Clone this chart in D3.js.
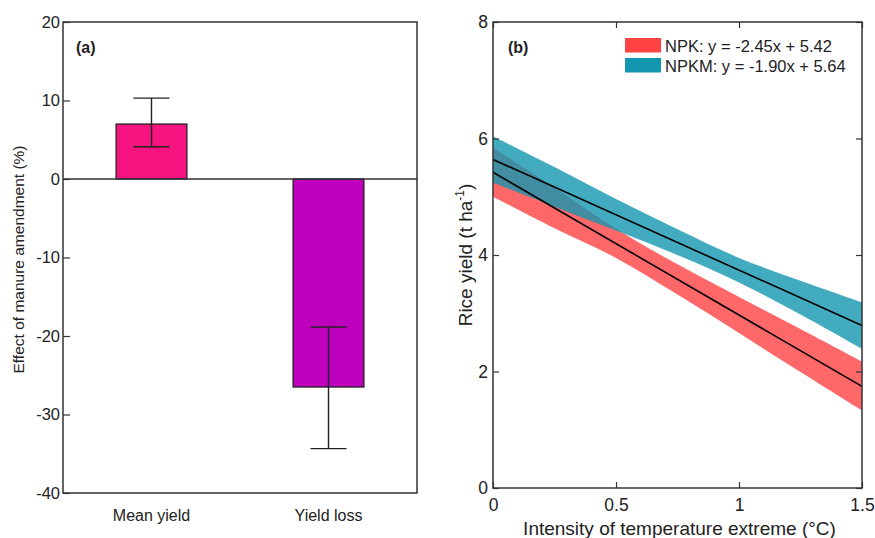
<!DOCTYPE html>
<html><head><meta charset="utf-8">
<script src="https://cdn.jsdelivr.net/npm/d3@7"></script>
<style>
body{margin:0;background:#fff;}
text{font-family:"Liberation Sans",Arial,sans-serif;fill:#222;}
</style></head>
<body><svg id="c" width="875" height="538"></svg>
<script>
// ---- Panel (a) data ----
const categories = ["Mean yield", "Yield loss"];
const effectMean = [7.0, -26.5];
const effectLow = [4.1, -34.35];
const effectHigh = [10.3, -18.85];
const barColors = ["#F5137F", "#BE00BE"];
const aTicks = [-40, -30, -20, -10, 0, 10, 20];

// ---- Panel (b) data ----
const bandX = [0, 0.25, 0.5, 0.75, 1, 1.25, 1.5];
const npkLower = [5.00, 4.46, 3.95, 3.32, 2.66, 1.99, 1.33];
const npkUpper = [5.84, 5.16, 4.45, 3.84, 3.28, 2.73, 2.17];
const npkmLower = [5.24, 4.83, 4.42, 4.00, 3.53, 2.98, 2.39];
const npkmUpper = [6.04, 5.51, 4.96, 4.44, 3.95, 3.56, 3.19];
const fitX = [0, 1.5];
const npkFit = [5.42, 1.745];
const npkmFit = [5.64, 2.79];
const seriesNames = ["NPK: y = -2.45x + 5.42", "NPKM: y = -1.90x + 5.64"];
const seriesColors = ["#FF4242", "#1396B0"];
const bXTicks = [0, 0.5, 1, 1.5];
const bYTicks = [0, 2, 4, 6, 8];

const svg = d3.select("#c");
const axisColor = "#333";
const FONT = "Liberation Sans, Arial, sans-serif";

// ================= Panel (a) =================
const A = {l: 63, r: 417, t: 22, b: 493};
const ya = d3.scaleLinear().domain([-40, 20]).range([A.b, A.t]);
const xa = d3.scaleBand().domain(categories).range([A.l, A.r]).paddingInner(0.6).paddingOuter(0.3);
const ga = svg.append("g");

ga.selectAll("rect.bar").data(categories).join("rect")
  .attr("x", d => xa(d))
  .attr("width", xa.bandwidth())
  .attr("y", (d, i) => ya(Math.max(0, effectMean[i])))
  .attr("height", (d, i) => Math.abs(ya(effectMean[i]) - ya(0)))
  .attr("fill", (d, i) => barColors[i])
  .attr("stroke", "#222").attr("stroke-width", 1.3);

ga.append("line").attr("x1", A.l).attr("x2", A.r).attr("y1", ya(0)).attr("y2", ya(0))
  .attr("stroke", axisColor).attr("stroke-width", 1.3);

const capW = 36;
categories.forEach((c, i) => {
  const cx = xa(c) + xa.bandwidth() / 2;
  const g = ga.append("g").attr("stroke", "#222").attr("stroke-width", 1.4);
  g.append("line").attr("x1", cx).attr("x2", cx).attr("y1", ya(effectLow[i])).attr("y2", ya(effectHigh[i]));
  g.append("line").attr("x1", cx - capW / 2).attr("x2", cx + capW / 2).attr("y1", ya(effectLow[i])).attr("y2", ya(effectLow[i]));
  g.append("line").attr("x1", cx - capW / 2).attr("x2", cx + capW / 2).attr("y1", ya(effectHigh[i])).attr("y2", ya(effectHigh[i]));
});

const axA = ga.append("g").attr("transform", `translate(${A.l},0)`)
  .call(d3.axisLeft(ya).tickValues(aTicks).tickSize(-7).tickPadding(3).tickFormat(d => String(d)));
axA.select(".domain").remove();
axA.selectAll(".tick line").attr("stroke", axisColor).attr("stroke-width", 1.2);
axA.selectAll(".tick text").attr("font-size", 16.5).attr("fill", "#222").attr("font-family", FONT);

ga.selectAll("text.cat").data(categories).join("text")
  .attr("x", d => xa(d) + xa.bandwidth() / 2).attr("y", 521)
  .attr("text-anchor", "middle").attr("font-size", 16).text(d => d);

ga.append("rect").attr("x", A.l).attr("y", A.t).attr("width", A.r - A.l).attr("height", A.b - A.t)
  .attr("fill", "none").attr("stroke", axisColor).attr("stroke-width", 1.5);

ga.append("text").attr("x", 76).attr("y", 53).attr("font-size", 16).attr("font-weight", "bold").text("(a)");

ga.append("text").attr("transform", `translate(24,${(A.t + A.b) / 2 + 2}) rotate(-90)`)
  .attr("text-anchor", "middle").attr("font-size", 15.5).text("Effect of manure amendment (%)");

// ================= Panel (b) =================
const B = {l: 493, r: 862, t: 22, b: 488};
const xb = d3.scaleLinear().domain([0, 1.5]).range([B.l, B.r]);
const yb = d3.scaleLinear().domain([0, 8]).range([B.b, B.t]);
const gb = svg.append("g");

const area = (lo, hi) => d3.area().x((d, i) => xb(bandX[i])).y0((d, i) => yb(lo[i])).y1((d, i) => yb(hi[i])).curve(d3.curveCatmullRom)(bandX);
gb.append("path").attr("d", area(npkLower, npkUpper)).attr("fill", seriesColors[0]).attr("fill-opacity", 0.8);
gb.append("path").attr("d", area(npkmLower, npkmUpper)).attr("fill", seriesColors[1]).attr("fill-opacity", 0.8);

const line = vals => d3.line().x((d, i) => xb(fitX[i])).y((d, i) => yb(vals[i]))(fitX);
gb.append("path").attr("d", line(npkFit)).attr("stroke", "#000").attr("stroke-width", 1.6).attr("fill", "none");
gb.append("path").attr("d", line(npkmFit)).attr("stroke", "#000").attr("stroke-width", 1.6).attr("fill", "none");

function styleAxis(sel, showText) {
  sel.select(".domain").remove();
  sel.selectAll(".tick line").attr("stroke", axisColor).attr("stroke-width", 1.2);
  sel.selectAll(".tick text").attr("font-size", 17.5).attr("fill", "#222").attr("font-family", FONT);
  if (!showText) sel.selectAll(".tick text").remove();
}
styleAxis(gb.append("g").attr("transform", `translate(${B.l},0)`)
  .call(d3.axisLeft(yb).tickValues(bYTicks).tickSize(-6).tickPadding(5).tickFormat(d => String(d))), true);
styleAxis(gb.append("g").attr("transform", `translate(${B.r},0)`)
  .call(d3.axisRight(yb).tickValues(bYTicks).tickSize(-6)), false);
styleAxis(gb.append("g").attr("transform", `translate(0,${B.b})`)
  .call(d3.axisBottom(xb).tickValues(bXTicks).tickSize(-6).tickPadding(11).tickFormat(d => String(d))), true);
styleAxis(gb.append("g").attr("transform", `translate(0,${B.t})`)
  .call(d3.axisTop(xb).tickValues(bXTicks).tickSize(-6)), false);

gb.append("rect").attr("x", B.l).attr("y", B.t).attr("width", B.r - B.l).attr("height", B.b - B.t)
  .attr("fill", "none").attr("stroke", axisColor).attr("stroke-width", 1.5);

gb.append("text").attr("x", 508).attr("y", 53).attr("font-size", 16).attr("font-weight", "bold").text("(b)");

seriesNames.forEach((n, i) => {
  const y0 = 38 + i * 20;
  gb.append("rect").attr("x", 625).attr("y", y0).attr("width", 36).attr("height", 14.5).attr("fill", seriesColors[i]);
  gb.append("text").attr("x", 665).attr("y", y0 + 13.5).attr("font-size", 16.5).text(n);
});

gb.append("text").attr("x", (B.l + B.r) / 2 + 2).attr("y", 535).attr("text-anchor", "middle")
  .attr("font-size", 19).text("Intensity of temperature extreme (°C)");
const yt = gb.append("text").attr("transform", `translate(472,${(B.t + B.b) / 2}) rotate(-90)`)
  .attr("text-anchor", "middle").attr("font-size", 19);
yt.append("tspan").text("Rice yield (t ha");
yt.append("tspan").attr("font-size", 12).attr("dy", -8).text("-1");
yt.append("tspan").attr("dy", 8).text(")");
</script></body></html>
